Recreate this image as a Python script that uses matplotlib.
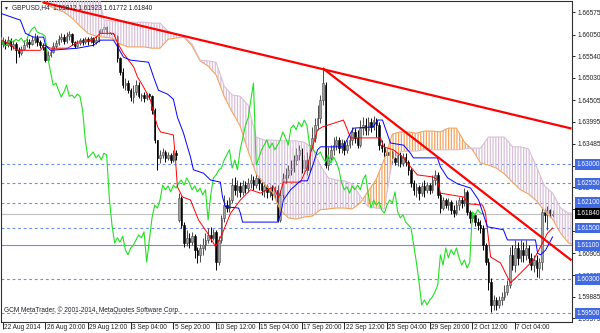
import matplotlib
matplotlib.use("Agg")
import matplotlib.pyplot as plt
import matplotlib.transforms as mtransforms
import numpy as np

plt.rcParams['font.family'] = ['Liberation Sans', 'DejaVu Sans']
plt.rcParams['hatch.linewidth'] = 0.9

# GBPUSD H4 candles, bar 0 = 22 Aug 2014
opens = [
    1.6583, 1.6587, 1.6580, 1.6592, 1.6578, 1.6583, 1.6568, 1.6561, 1.6571, 1.6580,
    1.6587, 1.6583, 1.6592, 1.6597, 1.6587, 1.6580, 1.6576, 1.6545, 1.6557, 1.6564,
    1.6578, 1.6585, 1.6594, 1.6599, 1.6590, 1.6601, 1.6606, 1.6587, 1.6578, 1.6585,
    1.6592, 1.6587, 1.6594, 1.6590, 1.6597, 1.6587, 1.6592, 1.6608, 1.6618, 1.6623,
    1.6611, 1.6608, 1.6606, 1.6601, 1.6550, 1.6517, 1.6486, 1.6491, 1.6474, 1.6458,
    1.6470, 1.6486, 1.6460, 1.6463, 1.6456, 1.6465, 1.6460, 1.6427, 1.6357, 1.6315,
    1.6322, 1.6329, 1.6315, 1.6322, 1.6310, 1.6326, 1.6169, 1.6221, 1.6157, 1.6115,
    1.6127, 1.6117, 1.6131, 1.6099, 1.6087, 1.6103, 1.6110, 1.6122, 1.6134, 1.6127,
    1.6141, 1.6070, 1.6122, 1.6174, 1.6204, 1.6197, 1.6216, 1.6251, 1.6240, 1.6249,
    1.6235, 1.6251, 1.6244, 1.6256, 1.6263, 1.6251, 1.6268, 1.6256, 1.6240, 1.6249,
    1.6235, 1.6244, 1.6228, 1.6240, 1.6169, 1.6228, 1.6268, 1.6275, 1.6287, 1.6291,
    1.6310, 1.6322, 1.6334, 1.6291, 1.6310, 1.6287, 1.6334, 1.6362, 1.6392, 1.6409,
    1.6451, 1.6486, 1.6298, 1.6315, 1.6334, 1.6345, 1.6357, 1.6338, 1.6350, 1.6334,
    1.6345, 1.6357, 1.6376, 1.6362, 1.6345, 1.6385, 1.6392, 1.6381, 1.6399, 1.6388,
    1.6404, 1.6392, 1.6345, 1.6338, 1.6329, 1.6322, 1.6329, 1.6315, 1.6305, 1.6322,
    1.6303, 1.6317, 1.6305, 1.6287, 1.6256, 1.6240, 1.6247, 1.6232, 1.6249, 1.6240,
    1.6251, 1.6240, 1.6263, 1.6275, 1.6228, 1.6197, 1.6216, 1.6204, 1.6211, 1.6193,
    1.6185, 1.6204, 1.6216, 1.6209, 1.6235, 1.6188, 1.6174, 1.6181, 1.6164, 1.6157,
    1.6150, 1.6110, 1.6070, 1.6023, 1.5969, 1.5981, 1.5969, 1.5981, 1.5988, 1.6000,
    1.6016, 1.6087, 1.6063, 1.6103, 1.6080, 1.6099, 1.6087, 1.6103, 1.6080, 1.6063,
    1.6075, 1.6056, 1.6070, 1.6188, 1.6181, 1.6193, 1.6181]
highs = [
    1.6599, 1.6594, 1.6601, 1.6597, 1.6592, 1.6587, 1.6576, 1.6578, 1.6592, 1.6597,
    1.6594, 1.6601, 1.6608, 1.6604, 1.6592, 1.6585, 1.6578, 1.6566, 1.6571, 1.6587,
    1.6592, 1.6604, 1.6608, 1.6606, 1.6611, 1.6613, 1.6608, 1.6590, 1.6592, 1.6597,
    1.6597, 1.6599, 1.6599, 1.6601, 1.6599, 1.6601, 1.6615, 1.6627, 1.6627, 1.6625,
    1.6615, 1.6613, 1.6611, 1.6604, 1.6552, 1.6526, 1.6503, 1.6498, 1.6479, 1.6486,
    1.6498, 1.6493, 1.6467, 1.6470, 1.6467, 1.6467, 1.6463, 1.6432, 1.6357, 1.6334,
    1.6338, 1.6334, 1.6329, 1.6326, 1.6334, 1.6334, 1.6232, 1.6225, 1.6164, 1.6146,
    1.6138, 1.6141, 1.6136, 1.6106, 1.6113, 1.6127, 1.6138, 1.6150, 1.6153, 1.6148,
    1.6146, 1.6131, 1.6181, 1.6228, 1.6216, 1.6223, 1.6268, 1.6270, 1.6263, 1.6258,
    1.6263, 1.6261, 1.6268, 1.6277, 1.6272, 1.6279, 1.6275, 1.6263, 1.6258, 1.6254,
    1.6256, 1.6251, 1.6249, 1.6251, 1.6240, 1.6279, 1.6291, 1.6298, 1.6310, 1.6322,
    1.6338, 1.6345, 1.6338, 1.6322, 1.6329, 1.6345, 1.6388, 1.6409, 1.6439, 1.6463,
    1.6526, 1.6493, 1.6341, 1.6345, 1.6364, 1.6366, 1.6364, 1.6359, 1.6357, 1.6357,
    1.6369, 1.6388, 1.6385, 1.6381, 1.6404, 1.6411, 1.6409, 1.6411, 1.6409, 1.6413,
    1.6409, 1.6399, 1.6357, 1.6350, 1.6338, 1.6334, 1.6334, 1.6329, 1.6329, 1.6329,
    1.6326, 1.6326, 1.6310, 1.6291, 1.6263, 1.6256, 1.6251, 1.6258, 1.6263, 1.6258,
    1.6256, 1.6275, 1.6287, 1.6282, 1.6235, 1.6223, 1.6221, 1.6221, 1.6216, 1.6204,
    1.6216, 1.6223, 1.6223, 1.6244, 1.6240, 1.6193, 1.6188, 1.6185, 1.6174, 1.6169,
    1.6157, 1.6115, 1.6080, 1.6033, 1.5993, 1.5988, 1.5990, 1.6000, 1.6016, 1.6028,
    1.6106, 1.6110, 1.6122, 1.6117, 1.6122, 1.6117, 1.6122, 1.6110, 1.6091, 1.6087,
    1.6087, 1.6080, 1.6200, 1.6197, 1.6202, 1.6195, 1.6192]
lows = [
    1.6576, 1.6571, 1.6576, 1.6568, 1.6571, 1.6538, 1.6552, 1.6557, 1.6568, 1.6576,
    1.6573, 1.6580, 1.6585, 1.6578, 1.6573, 1.6568, 1.6540, 1.6545, 1.6552, 1.6561,
    1.6573, 1.6580, 1.6587, 1.6583, 1.6585, 1.6592, 1.6580, 1.6573, 1.6576, 1.6580,
    1.6580, 1.6583, 1.6580, 1.6585, 1.6578, 1.6583, 1.6587, 1.6604, 1.6611, 1.6606,
    1.6601, 1.6599, 1.6592, 1.6540, 1.6510, 1.6479, 1.6474, 1.6467, 1.6449, 1.6444,
    1.6463, 1.6456, 1.6449, 1.6446, 1.6451, 1.6453, 1.6418, 1.6350, 1.6287, 1.6303,
    1.6315, 1.6305, 1.6310, 1.6303, 1.6305, 1.6310, 1.6164, 1.6150, 1.6106, 1.6108,
    1.6103, 1.6110, 1.6080, 1.6068, 1.6070, 1.6087, 1.6099, 1.6115, 1.6117, 1.6122,
    1.6052, 1.6063, 1.6115, 1.6164, 1.6188, 1.6188, 1.6209, 1.6228, 1.6223, 1.6223,
    1.6228, 1.6232, 1.6235, 1.6244, 1.6240, 1.6244, 1.6240, 1.6228, 1.6223, 1.6221,
    1.6223, 1.6216, 1.6218, 1.6164, 1.6164, 1.6221, 1.6256, 1.6268, 1.6275, 1.6282,
    1.6298, 1.6310, 1.6279, 1.6282, 1.6275, 1.6282, 1.6322, 1.6352, 1.6381, 1.6397,
    1.6439, 1.6291, 1.6287, 1.6310, 1.6322, 1.6334, 1.6326, 1.6326, 1.6322, 1.6326,
    1.6338, 1.6345, 1.6350, 1.6338, 1.6341, 1.6369, 1.6369, 1.6369, 1.6376, 1.6381,
    1.6364, 1.6334, 1.6329, 1.6317, 1.6310, 1.6303, 1.6303, 1.6298, 1.6296, 1.6294,
    1.6296, 1.6296, 1.6275, 1.6247, 1.6228, 1.6223, 1.6216, 1.6225, 1.6223, 1.6232,
    1.6230, 1.6232, 1.6251, 1.6221, 1.6185, 1.6193, 1.6197, 1.6193, 1.6183, 1.6176,
    1.6181, 1.6193, 1.6197, 1.6202, 1.6181, 1.6162, 1.6164, 1.6155, 1.6146, 1.6138,
    1.6099, 1.6063, 1.6005, 1.5953, 1.5958, 1.5958, 1.5962, 1.5969, 1.5981, 1.5993,
    1.6009, 1.6052, 1.6047, 1.6063, 1.6070, 1.6070, 1.6075, 1.6068, 1.6052, 1.6047,
    1.6035, 1.6033, 1.6052, 1.6164, 1.6146, 1.6176, 1.6177]
closes = [
    1.6587, 1.6580, 1.6592, 1.6578, 1.6583, 1.6568, 1.6561, 1.6571, 1.6580, 1.6587,
    1.6583, 1.6592, 1.6597, 1.6587, 1.6580, 1.6576, 1.6545, 1.6557, 1.6564, 1.6578,
    1.6585, 1.6594, 1.6599, 1.6590, 1.6601, 1.6606, 1.6587, 1.6578, 1.6585, 1.6592,
    1.6587, 1.6594, 1.6590, 1.6597, 1.6587, 1.6592, 1.6608, 1.6618, 1.6623, 1.6611,
    1.6608, 1.6606, 1.6601, 1.6550, 1.6517, 1.6486, 1.6491, 1.6474, 1.6458, 1.6470,
    1.6486, 1.6460, 1.6463, 1.6456, 1.6465, 1.6460, 1.6427, 1.6357, 1.6315, 1.6322,
    1.6329, 1.6315, 1.6322, 1.6310, 1.6326, 1.6322, 1.6221, 1.6157, 1.6115, 1.6127,
    1.6117, 1.6131, 1.6099, 1.6087, 1.6103, 1.6110, 1.6122, 1.6134, 1.6127, 1.6141,
    1.6070, 1.6122, 1.6174, 1.6204, 1.6197, 1.6216, 1.6251, 1.6240, 1.6249, 1.6235,
    1.6251, 1.6244, 1.6256, 1.6263, 1.6251, 1.6268, 1.6256, 1.6240, 1.6249, 1.6235,
    1.6244, 1.6228, 1.6240, 1.6169, 1.6228, 1.6268, 1.6275, 1.6287, 1.6291, 1.6310,
    1.6322, 1.6334, 1.6291, 1.6310, 1.6287, 1.6334, 1.6362, 1.6392, 1.6409, 1.6451,
    1.6491, 1.6298, 1.6315, 1.6334, 1.6345, 1.6357, 1.6338, 1.6350, 1.6334, 1.6345,
    1.6357, 1.6376, 1.6362, 1.6345, 1.6385, 1.6392, 1.6381, 1.6399, 1.6388, 1.6404,
    1.6392, 1.6345, 1.6338, 1.6329, 1.6322, 1.6329, 1.6315, 1.6305, 1.6322, 1.6303,
    1.6317, 1.6305, 1.6287, 1.6256, 1.6240, 1.6247, 1.6232, 1.6249, 1.6240, 1.6251,
    1.6240, 1.6263, 1.6275, 1.6228, 1.6197, 1.6216, 1.6204, 1.6211, 1.6193, 1.6185,
    1.6204, 1.6216, 1.6209, 1.6235, 1.6188, 1.6174, 1.6181, 1.6164, 1.6157, 1.6150,
    1.6110, 1.6070, 1.6023, 1.5969, 1.5981, 1.5969, 1.5981, 1.5988, 1.6000, 1.6016,
    1.6087, 1.6063, 1.6103, 1.6080, 1.6099, 1.6087, 1.6103, 1.6080, 1.6063, 1.6075,
    1.6056, 1.6070, 1.6188, 1.6181, 1.6193, 1.6185, 1.6184]

# Ichimoku: tenkan-sen / kijun-sen (bar, price)
tenkan_x = [-0.7, 2.2, 4.5, 6.0, 14.2, 15.7, 18.0, 24.3, 28.1, 33.7, 36.7, 41.6, 43.1, 45.3,
            49.1, 50.6, 52.8, 55.4, 56.6, 58.1, 59.2, 64.0, 64.8, 65.5, 67.4, 70.4, 73.4,
            76.8, 79.8, 82.4, 85.4, 89.1, 92.9, 96.6, 101.5, 103.4, 105.2, 111.6, 114.2,
            115.4, 118.0, 119.9, 127.7, 129.2, 130.3, 141.6, 142.7, 146.4, 150.2, 152.8,
            155.4, 161.4, 162.9, 164.0, 172.7, 174.5, 179.8, 180.9, 182.8, 186.5, 189.1,
            190.3, 194.0, 198.9, 201.5, 204.1, 206.0]
tenkan_y = [1.6592, 1.6585, 1.6573, 1.6568, 1.6568, 1.6580, 1.6573, 1.6573, 1.6587, 1.6592,
            1.6608, 1.6608, 1.6585, 1.6561, 1.6529, 1.6505, 1.6482, 1.6451, 1.6420, 1.6388,
            1.6376, 1.6369, 1.6310, 1.6247, 1.6223, 1.6216, 1.6169, 1.6138, 1.6106, 1.6138,
            1.6185, 1.6216, 1.6240, 1.6232, 1.6247, 1.6221, 1.6258, 1.6258, 1.6294, 1.6326,
            1.6381, 1.6388, 1.6404, 1.6381, 1.6362, 1.6362, 1.6341, 1.6334, 1.6315, 1.6294,
            1.6275, 1.6270, 1.6263, 1.6232, 1.6223, 1.6207, 1.6204, 1.6185, 1.6082, 1.6068,
            1.6035, 1.6021, 1.6044, 1.6075, 1.6106, 1.6138, 1.6150]
kijun_x = [-0.7, 6.7, 8.6, 11.6, 15.4, 16.1, 18.0, 28.1, 34.1, 36.7, 41.6, 43.1, 45.3, 47.9,
           54.7, 56.6, 58.4, 61.8, 64.0, 65.5, 67.8, 70.4, 71.5, 75.3, 77.9, 81.6, 82.4,
           83.5, 88.4, 89.1, 89.9, 103.0, 104.1, 105.2, 107.9, 111.6, 114.2, 116.5, 118.0,
           119.1, 127.7, 130.3, 131.5, 138.9, 140.4, 142.3, 145.3, 150.2, 152.8, 153.9,
           162.9, 164.0, 166.7, 170.4, 175.3, 178.3, 181.6, 187.6, 189.1, 199.6, 200.4,
           201.5, 203.4, 206.0]
kijun_y = [1.6655, 1.6639, 1.6608, 1.6599, 1.6599, 1.6580, 1.6568, 1.6573, 1.6580, 1.6592,
           1.6592, 1.6576, 1.6552, 1.6545, 1.6540, 1.6505, 1.6474, 1.6465, 1.6453, 1.6411,
           1.6373, 1.6317, 1.6287, 1.6279, 1.6263, 1.6258, 1.6223, 1.6200, 1.6197, 1.6185,
           1.6164, 1.6164, 1.6181, 1.6216, 1.6240, 1.6261, 1.6261, 1.6303, 1.6334, 1.6341,
           1.6341, 1.6373, 1.6385, 1.6388, 1.6404, 1.6404, 1.6350, 1.6345, 1.6326, 1.6315,
           1.6315, 1.6294, 1.6268, 1.6254, 1.6244, 1.6216, 1.6153, 1.6146, 1.6122, 1.6122,
           1.6091, 1.6087, 1.6098, 1.6129]

# Senkou span A / B, every third bar from bar -1
span_a = [
    1.6721, 1.6714, 1.6707, 1.6700, 1.6693, 1.6686, 1.6674, 1.6665, 1.6658, 1.6644,
    1.6625, 1.6608, 1.6601, 1.6599, 1.6597, 1.6583, 1.6576, 1.6576, 1.6576, 1.6573,
    1.6573, 1.6594, 1.6597, 1.6599, 1.6578, 1.6543, 1.6531, 1.6510, 1.6460, 1.6423,
    1.6390, 1.6331, 1.6277, 1.6254, 1.6235, 1.6193, 1.6174, 1.6171, 1.6176, 1.6178,
    1.6193, 1.6195, 1.6197, 1.6197, 1.6195, 1.6209, 1.6237, 1.6265, 1.6312, 1.6371,
    1.6376, 1.6376, 1.6373, 1.6378, 1.6378, 1.6376, 1.6385, 1.6385, 1.6352, 1.6334,
    1.6303, 1.6298, 1.6291, 1.6277, 1.6258, 1.6240, 1.6230, 1.6214, 1.6190, 1.6171,
    1.6138, 1.6115, 1.6108]
span_b = [
    1.6730, 1.6730, 1.6730, 1.6730, 1.6730, 1.6730, 1.6730, 1.6730, 1.6730, 1.6730,
    1.6730, 1.6730, 1.6730, 1.6639, 1.6637, 1.6637, 1.6634, 1.6634, 1.6634, 1.6632,
    1.6632, 1.6613, 1.6606, 1.6601, 1.6583, 1.6545, 1.6543, 1.6540, 1.6484, 1.6463,
    1.6460, 1.6439, 1.6364, 1.6357, 1.6357, 1.6355, 1.6355, 1.6355, 1.6352, 1.6338,
    1.6298, 1.6268, 1.6263, 1.6261, 1.6254, 1.6225, 1.6200, 1.6197, 1.6195, 1.6310,
    1.6329, 1.6331, 1.6331, 1.6334, 1.6334, 1.6334, 1.6334, 1.6334, 1.6336, 1.6338,
    1.6338, 1.6364, 1.6364, 1.6364, 1.6341, 1.6341, 1.6336, 1.6294, 1.6249, 1.6232,
    1.6197, 1.6185, 1.6185]

trend_x = [[15.0, 213.1], [119.9, 213.1]]
trend_y = [[1.6681, 1.6384], [1.6526, 1.6074]]

dashed_levels = [1.6300, 1.6255, 1.6210, 1.6150, 1.6030, 1.5950]
solid_level = 1.6110
bid = 1.6184

price_ticks = [1.66575, 1.66050, 1.65540, 1.65030, 1.64505, 1.63995, 1.63485, 1.62970,
               1.62460, 1.61945, 1.61420, 1.60905, 1.60385, 1.59885, 1.59375]
# labels that sit fully under a price box are not visible
price_tick_labels = ['1.66575', '1.66050', '1.65540', '1.65030', '1.64505', '1.63995',
                     '1.63485', '', '1.62460', '', '', '1.60905', '1.60385', '1.59885',
                     '1.59375']
date_bars = [0, 16, 32, 48, 64, 80, 96, 112, 128, 144, 160, 176, 192]
date_labels = ['22 Aug 2014', '26 Aug 20:00', '29 Aug 12:00', '3 Sep 04:00', '5 Sep 20:00',
               '10 Sep 12:00', '15 Sep 04:00', '17 Sep 20:00', '22 Sep 12:00', '25 Sep 04:00',
               '29 Sep 20:00', '2 Oct 12:00', '7 Oct 04:00']


def main():
    fig = plt.figure(figsize=(6.0, 3.33), dpi=100)
    ax = fig.add_axes([0.5 / 600, 11 / 333, 571 / 600, 321 / 333])

    o = np.array(opens)
    h = np.array(highs)
    l = np.array(lows)
    c = np.array(closes)
    idx = np.arange(len(c))
    up = c >= o

    # candles
    ax.vlines(idx[up], l[up], h[up], color='#4a4a4a', lw=0.7, zorder=2)
    ax.vlines(idx[~up], l[~up], h[~up], color='black', lw=0.7, zorder=2)
    body = np.maximum(np.abs(c - o), 0.00008)
    ax.bar(idx[up], body[up], bottom=o[up], width=0.6, color='#a0a0a0',
           edgecolor='#4a4a4a', linewidth=0.4, zorder=2.1)
    ax.bar(idx[~up], body[~up], bottom=c[~up], width=0.6, color='black',
           edgecolor='black', linewidth=0.4, zorder=2.1)

    # cloud
    cx = np.arange(-1, 216, 3)
    sa = np.array(span_a)
    sb = np.array(span_b)
    ax.fill_between(cx, sa, sb, where=sb >= sa, interpolate=True, facecolor='none',
                    edgecolor='#d8bfd8', hatch='||||||', linewidth=0, zorder=3)
    ax.fill_between(cx, sa, sb, where=sa > sb, interpolate=True, facecolor='none',
                    edgecolor='#f4a460', hatch='||||||', linewidth=0, zorder=3)
    ax.plot(cx, sa, color='#f4a460', lw=0.8, zorder=3.5)
    ax.plot(cx, sb, color='#d8bfd8', lw=0.8, zorder=3.5)

    # chikou = close shifted back 26 bars
    ax.plot(idx - 26, c, color='#22e022', lw=0.8, zorder=4)
    ax.plot(tenkan_x, tenkan_y, color='red', lw=0.7, zorder=4)
    ax.plot(kijun_x, kijun_y, color='blue', lw=0.7, zorder=4)

    for lv in dashed_levels:
        ax.axhline(lv, color='#6a8ef0', lw=0.8, dashes=(2.5, 2.5), zorder=1.5)
    ax.axhline(solid_level, color='#6a8ef0', lw=0.8, zorder=1.5)
    ax.axhline(bid, color='#c0c0c0', lw=0.8, zorder=1.4)

    for tx, ty in zip(trend_x, trend_y):
        ax.plot(tx, ty, color='red', lw=1.6, zorder=5, solid_capstyle='butt')

    ax.set_xlim(-0.75, 213.1)
    ax.set_ylim(1.5929, 1.6684)
    for s in ax.spines.values():
        s.set_linewidth(0.8)
        s.set_color('#303030')

    ax.yaxis.tick_right()
    ax.set_yticks(price_ticks)
    ax.set_yticklabels(price_tick_labels, fontsize=4.7, color='#202020')
    ax.tick_params(axis='y', direction='out', length=2.5, width=0.6, pad=2)

    # date ticks run down beside their labels, as in the terminal
    ax.set_xticks(date_bars)
    ax.set_xticklabels([])
    ax.tick_params(axis='x', direction='out', length=5, width=0.6)
    xtrans = mtransforms.blended_transform_factory(ax.transData, ax.transAxes)
    for b, lab in zip(date_bars, date_labels):
        ax.text(b + 0.5, -5.5 / 321, lab, transform=xtrans, fontsize=4.7, color='#202020',
                ha='left', va='center', clip_on=False)

    trans = mtransforms.blended_transform_factory(ax.transAxes, ax.transData)
    for lv in dashed_levels + [solid_level]:
        ax.text(1.0 + 5 / 571, lv, f'{lv:.5f}', transform=trans, fontsize=4.7, color='white',
                va='center', ha='left', clip_on=False, zorder=6,
                bbox=dict(boxstyle='square,pad=0.3', fc='#4169e1', ec='none'))
    ax.text(1.0 + 5 / 571, bid, f'{bid:.5f}', transform=trans, fontsize=4.7, color='white',
            va='center', ha='left', clip_on=False, zorder=6,
            bbox=dict(boxstyle='square,pad=0.3', fc='black', ec='none'))

    ax.text(3 / 571, 1 - 7 / 321, '▼', transform=ax.transAxes, fontsize=3.5,
            va='center', ha='left', color='#202020', zorder=7)
    ax.text(12 / 571, 1 - 7 / 321, 'GBPUSD,H4  1.61812 1.61923 1.61772 1.61840',
            transform=ax.transAxes, fontsize=4.7, va='center', ha='left', color='#202020', zorder=7)
    ax.text(3 / 571, 12 / 321, 'GCM MetaTrader, © 2001-2014, MetaQuotes Software Corp.',
            transform=ax.transAxes, fontsize=4.7, va='center', ha='left', color='#202020', zorder=7)

    fig.savefig('out.png', dpi=100)


if __name__ == "__main__":
    main()
